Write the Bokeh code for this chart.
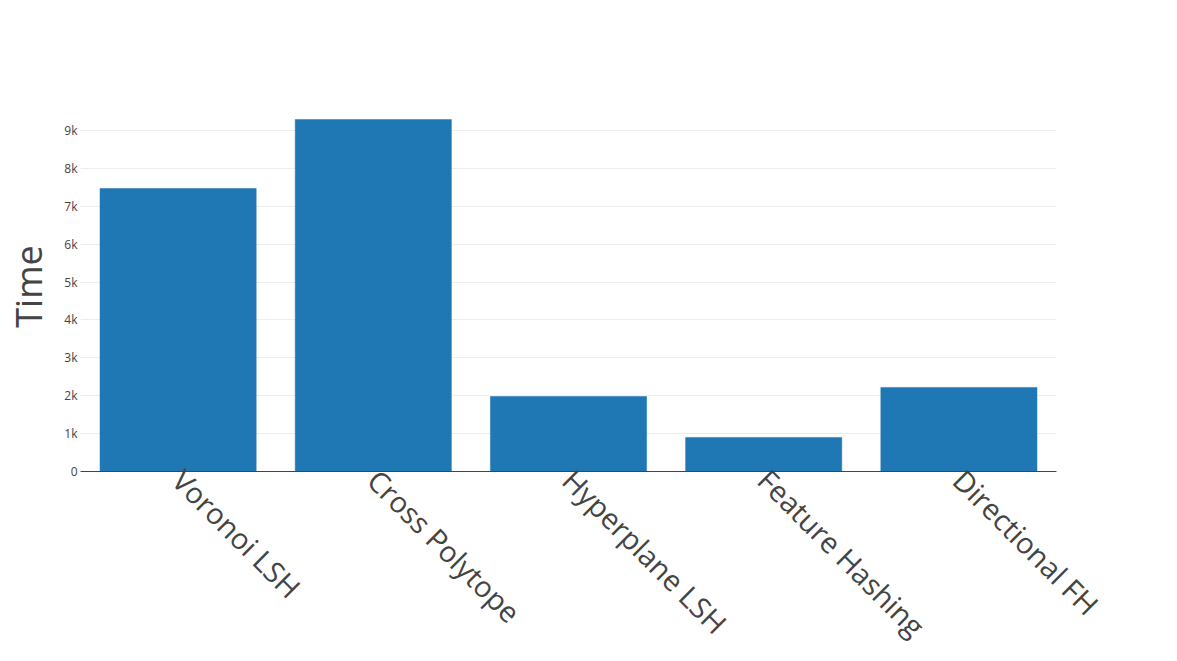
import math
from bokeh.plotting import figure
from bokeh.models import Range1d, FactorRange, FixedTicker, ColumnDataSource
from bokeh.embed import file_html
from bokeh.resources import INLINE

methods = ["Voronoi LSH", "Cross Polytope", "Hyperplane LSH", "Feature Hashing", "Directional FH"]
times = [7470, 9290, 1980, 900, 2220]
y_ticks = [0, 1000, 2000, 3000, 4000, 5000, 6000, 7000, 8000, 9000]
y_tick_labels = ["0", "1k", "2k", "3k", "4k", "5k", "6k", "7k", "8k", "9k"]

src = ColumnDataSource(dict(method=methods, time=times))

p = figure(width=1177, height=661, x_range=FactorRange(*methods),
           y_range=Range1d(0, 9768), output_backend="svg", toolbar_location=None,
           min_border_left=80, min_border_right=121, min_border_top=101, min_border_bottom=190)
p.outline_line_color = None
p.background_fill_color = "white"
p.border_fill_color = "white"

p.vbar(x="method", top="time", width=0.8, source=src, fill_color="#1f77b4",
       line_color="#1f77b4", line_width=0.5)

# y axis
p.yaxis.ticker = FixedTicker(ticks=y_ticks)
p.yaxis.major_label_overrides = {t: l for t, l in zip(y_ticks, y_tick_labels)}
p.yaxis.axis_line_color = None
p.yaxis.major_tick_line_color = None
p.yaxis.minor_tick_line_color = None
p.yaxis.major_tick_out = 0
p.yaxis.minor_tick_out = 0
p.yaxis.major_label_standoff = 3
p.yaxis.major_label_text_font = "Open Sans"
p.yaxis.major_label_text_font_size = "12px"
p.yaxis.major_label_text_color = "#444444"
p.yaxis.axis_label = "Time"
p.yaxis.axis_label_text_font = "Open Sans"
p.yaxis.axis_label_text_font_size = "36px"
p.yaxis.axis_label_text_font_style = "normal"
p.yaxis.axis_label_text_color = "#444444"
p.yaxis.axis_label_standoff = 8

p.ygrid.grid_line_color = "#eeeeee"
p.ygrid.grid_line_width = 1
p.xgrid.grid_line_color = None

# x axis
p.xaxis.axis_line_color = "#444444"
p.xaxis.axis_line_width = 1
p.xaxis.major_tick_line_color = None
p.xaxis.minor_tick_line_color = None
p.xaxis.major_tick_out = 0
p.xaxis.minor_tick_out = 0
p.xaxis.major_label_orientation = -math.pi / 4
p.xaxis.major_label_standoff = 3
p.xaxis.major_label_text_font = "Open Sans"
p.xaxis.major_label_text_font_size = "29px"
p.xaxis.major_label_text_color = "#444444"

open("out.html", "w").write(file_html(p, INLINE))
